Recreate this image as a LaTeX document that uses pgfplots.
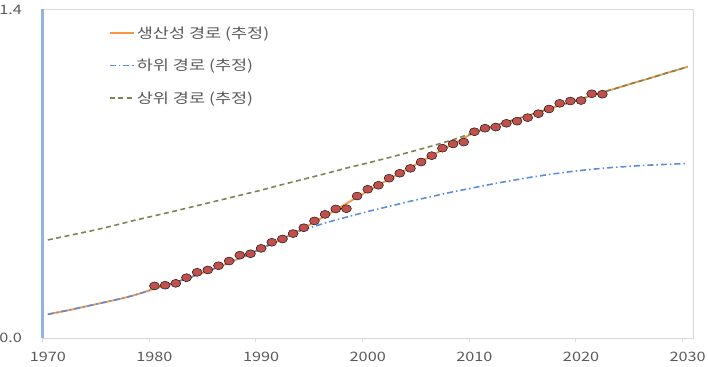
\documentclass[border=0pt]{standalone}
\usepackage{fontspec}
\setmainfont{Noto Sans CJK KR}[FakeStretch=1.25]
\usepackage{pgfplots}
\usepackage{pgfplotstable}
\pgfplotsset{compat=1.18}
\definecolor{cOr}{HTML}{F79646}
\definecolor{cBlue}{HTML}{5B8ED6}
\definecolor{cGreen}{HTML}{76884F}
\definecolor{cRed}{HTML}{C0504D}
\definecolor{cLeft}{HTML}{8FB4E3}
\definecolor{cBox}{HTML}{D9D9D9}
\definecolor{cTxt}{HTML}{595959}

\pgfplotstableread{
x y
1970 0.101
1971 0.110
1972 0.119
1973 0.129
1974 0.139
1975 0.149
1976 0.159
1977 0.169
1978 0.181
1979 0.195
1980 0.210
1981 0.224
1982 0.238
1983 0.253
1984 0.269
1985 0.285
1986 0.302
1987 0.321
1988 0.340
1989 0.360
1990 0.381
1991 0.402
1992 0.423
1993 0.445
1994 0.469
1995 0.494
1996 0.520
1997 0.546
1998 0.573
1999 0.600
2000 0.626
2001 0.652
2002 0.677
2003 0.702
2004 0.727
2005 0.752
2006 0.777
2007 0.802
2008 0.827
2009 0.852
2010 0.876
2011 0.892
2012 0.906
2013 0.920
2014 0.934
2015 0.948
2016 0.962
2017 0.977
2018 0.991
2019 1.005
2020 1.019
2021 1.033
2022 1.047
2023 1.060
2024 1.074
2025 1.088
2026 1.101
2027 1.115
2028 1.129
2029 1.142
2030 1.156
}\prodpath

\pgfplotstableread{
x y
1970 0.101
1971 0.110
1972 0.119
1973 0.129
1974 0.139
1975 0.149
1976 0.159
1977 0.169
1978 0.181
1979 0.195
1980 0.210
1981 0.224
1982 0.238
1983 0.253
1984 0.269
1985 0.285
1986 0.302
1987 0.321
1988 0.340
1989 0.360
1990 0.381
1991 0.402
1992 0.423
1993 0.445
1994 0.461
1995 0.476
1996 0.490
1997 0.503
1998 0.515
1999 0.527
2000 0.539
2001 0.550
2002 0.561
2003 0.572
2004 0.583
2005 0.593
2006 0.603
2007 0.613
2008 0.623
2009 0.632
2010 0.641
2011 0.650
2012 0.659
2013 0.667
2014 0.675
2015 0.683
2016 0.690
2017 0.697
2018 0.703
2019 0.709
2020 0.714
2021 0.719
2022 0.723
2023 0.727
2024 0.730
2025 0.733
2026 0.736
2027 0.738
2028 0.740
2029 0.742
2030 0.744
}\lowpath

\pgfplotstableread{
x y
1970 0.418
1972 0.437
1974 0.456
1976 0.477
1978 0.500
1980 0.521
1982 0.542
1984 0.564
1986 0.586
1988 0.608
1990 0.630
1992 0.654
1994 0.677
1996 0.700
1998 0.724
2000 0.746
2002 0.769
2004 0.793
2006 0.818
2008 0.845
2010 0.876
2011 0.892
2012 0.906
2013 0.920
2014 0.934
2015 0.948
2016 0.962
2017 0.977
2018 0.991
2019 1.005
2020 1.019
2021 1.033
2022 1.047
2023 1.060
2024 1.074
2025 1.088
2026 1.101
2027 1.115
2028 1.129
2029 1.142
2030 1.156
}\uppath

\pgfplotstableread{
x y
1980 0.222
1981 0.225
1982 0.233
1983 0.257
1984 0.280
1985 0.290
1986 0.308
1987 0.328
1988 0.353
1989 0.359
1990 0.382
1991 0.408
1992 0.422
1993 0.445
1994 0.470
1995 0.499
1996 0.527
1997 0.550
1998 0.551
1999 0.605
2000 0.634
2001 0.651
2002 0.681
2003 0.702
2004 0.723
2005 0.750
2006 0.777
2007 0.809
2008 0.827
2009 0.835
2010 0.879
2011 0.894
2012 0.899
2013 0.915
2014 0.924
2015 0.939
2016 0.956
2017 0.976
2018 1.000
2019 1.010
2020 1.012
2021 1.041
2022 1.039
}\actual

\begin{document}
\begin{tikzpicture}
\begin{axis}[name=ax, scale only axis, width=650.5bp, height=328.5bp,
  xmin=1969.5, xmax=2030.5, ymin=0, ymax=1.4,
  axis line style={draw=cBox, line width=0.8bp},
  xtick={1970,1980,...,2030},
  xticklabels={1970,1980,1990,2000,2010,2020,2030},
  ytick={0,1.4}, yticklabels={0.0,1.4},
  major tick length=0pt,
  xtick pos=bottom, ytick pos=left,
  extra x ticks={1969.5,1979.5,1989.5,1999.5,2009.5,2019.5,2029.5},
  extra x tick labels={},
  extra x tick style={major tick length=4bp, tick align=outside,
     xtick style={draw=cBox, line width=0.8bp}},
  /pgf/number format/assume math mode=true,
  tick label style={font=\fontsize{13bp}{15bp}\selectfont, text=cTxt},
  xticklabel style={yshift=-10.5bp},
  yticklabel style={xshift=-17bp},
  legend style={at={(axis description cs:0.102,0.955)}, anchor=north west,
     draw=none, fill=none, font=\fontsize{14bp}{16bp}\selectfont,
     row sep=15.5bp, inner sep=0pt,
     /tikz/every even column/.append style={column sep=5bp}},
  legend cell align=left,
  legend image code/.code={\draw[#1] (0bp,0bp) -- (24bp,0bp);},
]
\addplot[color=cOr, line width=1.8bp] table[x=x,y=y] {\prodpath};
\addlegendentry{\textcolor{cTxt}{생산성 경로 (추정)}}
\addplot[color=cBlue, line width=1.6bp, dash pattern=on 6bp off 3bp on 1.5bp off 3bp] table[x=x,y=y] {\lowpath};
\addlegendentry{\textcolor{cTxt}{하위 경로 (추정)}}
\addplot[color=cGreen, line width=1.6bp, dash pattern=on 5bp off 3.5bp] table[x=x,y=y] {\uppath};
\addlegendentry{\textcolor{cTxt}{상위 경로 (추정)}}
\addplot[only marks, mark=*, mark size=4bp, mark options={fill=cRed, draw=none, xscale=1.25}, forget plot] table[x=x,y=y] {\actual};
\end{axis}
\draw[cLeft, line width=2bp] (ax.south west) -- (ax.north west);
\pgfresetboundingbox
\path[use as bounding box] ([xshift=-42.5bp,yshift=-29bp]ax.south west) rectangle ([xshift=15bp,yshift=9.5bp]ax.north east);
\end{tikzpicture}
\end{document}
